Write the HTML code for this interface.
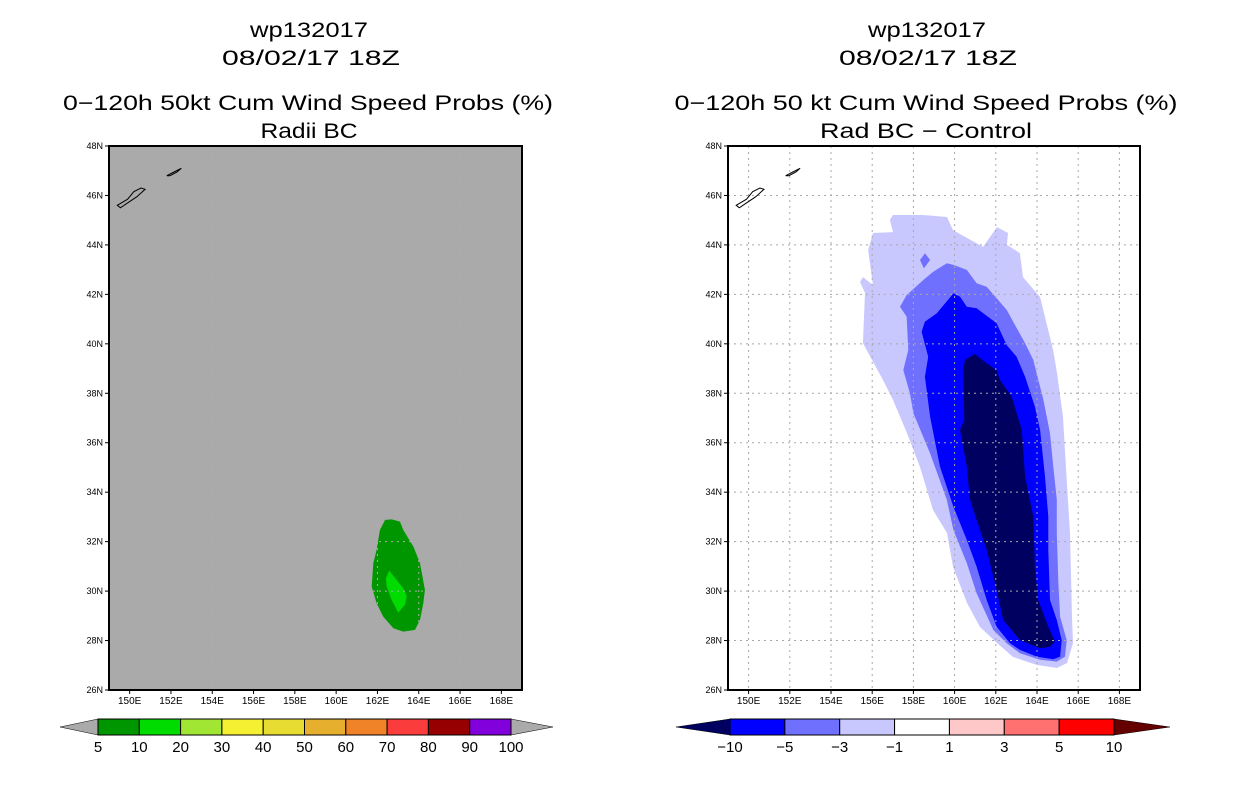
<!DOCTYPE html>
<html><head><meta charset="utf-8">
<style>
html,body{margin:0;padding:0;background:#fff;}
svg{display:block;font-family:"Liberation Sans",sans-serif;}
</style></head>
<body>
<svg id="chart" width="1236" height="800" viewBox="0 0 1236 800">
  <rect width="1236" height="800" fill="#fff"/>
  <g font-size="21" text-anchor="middle" fill="#000">
    <text x="309" y="37" textLength="118" lengthAdjust="spacingAndGlyphs">wp132017</text>
    <text x="311" y="65" textLength="178" lengthAdjust="spacingAndGlyphs">08/02/17 18Z</text>
    <text x="308" y="110" textLength="490" lengthAdjust="spacingAndGlyphs">0−120h 50kt Cum Wind Speed Probs (%)</text>
    <text x="309" y="138" textLength="97" lengthAdjust="spacingAndGlyphs">Radii BC</text>
  </g>
  <g font-size="21" text-anchor="middle" fill="#000">
    <text x="927" y="37" textLength="118" lengthAdjust="spacingAndGlyphs">wp132017</text>
    <text x="928" y="65" textLength="178" lengthAdjust="spacingAndGlyphs">08/02/17 18Z</text>
    <text x="926" y="110" textLength="503" lengthAdjust="spacingAndGlyphs">0−120h 50 kt Cum Wind Speed Probs (%)</text>
    <text x="926" y="138" textLength="212" lengthAdjust="spacingAndGlyphs">Rad BC − Control</text>
  </g>
  <g id="left"></g>
  <g id="right"></g>
  <g id="cbl"></g>
  <g id="cbr"></g>
</svg>
<script>
const NS="http://www.w3.org/2000/svg";
const lonTicks=[150,152,154,156,158,160,162,164,166,168];
const latTicks=[26,28,30,32,34,36,38,40,42,44,46,48];
const leftGreen5=[[162.37,32.88],[162.69,32.90],[163.09,32.81],[163.25,32.47],[163.74,31.80],[164.06,31.13],[164.30,30.05],[164.22,29.51],[164.06,28.83],[163.82,28.43],[163.25,28.36],[162.77,28.50],[162.28,28.97],[161.96,29.51],[161.72,30.18],[161.80,31.13],[161.96,31.66],[162.12,32.47]];
const leftGreen10=[[162.57,30.83],[163.25,30.11],[163.42,29.78],[163.33,29.44],[163.01,29.13],[162.69,29.64],[162.45,30.18],[162.41,30.52]];
const diffM1=[[157.01,45.21],[158.47,45.21],[159.63,45.13],[159.92,44.60],[161.38,43.92],[162.06,44.72],[162.59,44.48],[162.54,44.00],[163.17,43.67],[163.32,42.70],[164.15,41.89],[164.78,39.75],[164.97,38.82],[165.26,37.04],[165.50,33.69],[165.60,32.35],[165.70,28.95],[165.75,27.90],[165.46,27.09],[164.97,26.89],[164.00,27.01],[162.83,27.34],[162.06,27.90],[161.23,28.55],[160.60,29.52],[159.92,30.98],[159.63,32.35],[158.95,33.28],[158.32,35.02],[157.69,36.39],[157.01,37.73],[156.52,38.54],[155.55,40.03],[155.65,42.06],[155.41,42.50],[155.55,42.70],[156.04,42.38],[155.80,43.79],[156.04,44.48],[157.01,44.52],[156.86,45.01]];
const diffM3=[[157.35,41.50],[157.67,41.97],[158.48,42.58],[158.97,42.92],[159.62,43.26],[159.94,43.19],[160.59,42.99],[161.07,42.45],[161.56,42.31],[162.53,41.37],[163.42,40.02],[163.82,39.35],[164.31,37.73],[164.63,36.38],[164.79,35.03],[164.96,33.69],[164.96,32.34],[165.04,30.32],[165.12,28.97],[165.44,28.02],[165.36,27.35],[164.96,27.15],[164.15,27.22],[163.17,27.49],[162.53,27.89],[161.88,28.43],[161.07,29.91],[160.59,31.13],[159.94,32.47],[159.62,33.69],[158.81,35.57],[158.00,37.19],[157.83,38.00],[157.51,38.94],[157.75,39.75],[157.67,41.10]];
const diffM3b=[[158.32,43.39],[158.56,43.66],[158.81,43.39],[158.51,43.05]];
const diffM5=[[158.40,40.49],[158.56,40.90],[159.13,41.23],[159.94,42.04],[160.26,41.91],[160.59,41.50],[161.07,41.44],[162.04,40.83],[162.53,39.95],[163.01,39.48],[163.42,38.67],[163.90,37.46],[164.15,36.52],[164.39,34.63],[164.55,33.01],[164.55,31.66],[164.63,29.64],[164.96,28.83],[165.20,28.02],[165.12,27.35],[164.79,27.24],[163.99,27.35],[163.17,27.62],[162.69,27.89],[162.04,28.56],[161.56,29.64],[161.07,30.99],[160.59,32.07],[159.94,33.41],[159.29,35.03],[158.81,37.05],[158.56,38.67],[158.72,39.48]];
const diffM10=[[160.50,39.35],[160.99,39.59],[161.56,39.21],[162.04,38.94],[162.20,38.54],[162.77,37.86],[163.26,36.52],[163.42,34.63],[163.82,33.01],[163.90,30.99],[164.06,29.64],[164.55,28.56],[164.87,27.96],[164.63,27.75],[164.15,27.69],[163.17,28.02],[162.36,28.83],[162.04,30.05],[161.56,31.66],[161.07,32.88],[160.75,33.69],[160.59,35.03],[160.26,36.52],[160.47,36.92],[160.42,38.94]];
const island1=[[149.4,45.6],[149.9,45.85],[150.2,46.15],[150.55,46.3],[150.75,46.25],[150.35,45.95],[149.9,45.7],[149.55,45.5]];
const island2=[[151.8,46.8],[152.15,46.95],[152.5,47.1],[152.3,46.95],[151.95,46.8]];
const leftLevels=["5","10","20","30","40","50","60","70","80","90","100"];
const leftColors=["#009600","#00dc00","#a0e632","#f5f032","#e6dc32","#e6af2d","#f08228","#fa3c3c","#960000","#8200dc"];
const rightLevels=["−10","−5","−3","−1","1","3","5","10"];
const rightColors=["#0000ff","#7070ff","#c8c8ff","#ffffff","#ffc8c8","#ff7070","#ff0000"];

const Y0=146,Y1=690;
function yLat(v){return Y1-(v-26)/22*(Y1-Y0);}
function mk(tag,attrs,parent){const e=document.createElementNS(NS,tag);for(const k in attrs)e.setAttribute(k,attrs[k]);parent.appendChild(e);return e;}
function poly(pts,xf,parent,fill,stroke,name){
  const d=pts.map(p=>xf(p[0]).toFixed(1)+","+yLat(p[1]).toFixed(1)).join(" ");
  const e=mk("polygon",{points:d,fill:fill,stroke:stroke||"none"},parent);
  
  
  return e;
}
function panel(g,X0,X1,bg){
  const xLon=v=>X0+(v-149)/20*(X1-X0);
  const bgr=mk("rect",{x:X0,y:Y0,width:X1-X0,height:Y1-Y0,fill:bg},g);
  
  
  return xLon;
}
function axes(g,X0,X1,xLon,gridCol){
  const grid=mk("g",{stroke:gridCol,"stroke-width":1,"stroke-dasharray":"2,4"},g);
  
  
  lonTicks.forEach(v=>mk("line",{x1:xLon(v),x2:xLon(v),y1:Y0,y2:Y1},grid));
  latTicks.slice(1,-1).forEach(v=>mk("line",{x1:X0,x2:X1,y1:yLat(v),y2:yLat(v)},grid));
  const fr=mk("rect",{x:X0,y:Y0,width:X1-X0,height:Y1-Y0,fill:"none",stroke:"#000","stroke-width":2},g);
  
  
  lonTicks.forEach(v=>{
    mk("line",{x1:xLon(v),x2:xLon(v),y1:Y1,y2:Y1+4,stroke:"#000"},g);
    const t=mk("text",{x:xLon(v),y:Y1+14,"font-size":10,"text-anchor":"middle"},g);
    t.textContent=v+"E";
    
    
  });
  latTicks.forEach(v=>{
    mk("line",{x1:X0-4,x2:X0,y1:yLat(v),y2:yLat(v),stroke:"#000"},g);
    const t=mk("text",{x:X0-6,y:yLat(v)+3,"font-size":9,"text-anchor":"end"},g);
    t.textContent=v+"N";
    
    
  });
  poly(island1,xLon,g,"none","#000","island-outline");
  poly(island2,xLon,g,"none","#000","island-outline");
}
const gl=document.getElementById("left");
const xl=panel(gl,109,522,"#aaaaaa");
poly(leftGreen5,xl,gl,"#009600",null,"contour-5-10");
poly(leftGreen10,xl,gl,"#00dc00",null,"contour-10-20");
axes(gl,109,522,xl,"#adadad");
const gr=document.getElementById("right");
const xr=panel(gr,728,1140,"#ffffff");
poly(diffM1,xr,gr,"#c8c8ff",null,"contour-minus1");
poly(diffM3,xr,gr,"#7070ff",null,"contour-minus3");
poly(diffM3b,xr,gr,"#7070ff",null,"contour-minus3-small");
poly(diffM5,xr,gr,"#0000ff",null,"contour-minus5");
poly(diffM10,xr,gr,"#000060",null,"contour-minus10");
axes(gr,728,1140,xr,"#a8a8a8");

function colorbar(g,bx0,bx1,tipL,tipR,cols,labels,leftTri,rightTri){
  const yT=719,yB=735,n=cols.length,w=(bx1-bx0)/n;
  const tl=mk("polygon",{points:`${tipL},${(yT+yB)/2} ${bx0},${yT} ${bx0},${yB}`,fill:leftTri,stroke:"#000","stroke-width":0.5},g);
  
  
  const tr=mk("polygon",{points:`${tipR},${(yT+yB)/2} ${bx1},${yT} ${bx1},${yB}`,fill:rightTri,stroke:"#000","stroke-width":0.5},g);
  
  
  cols.forEach((c,i)=>{
    const r=mk("rect",{x:bx0+i*w,y:yT,width:w,height:yB-yT,fill:c,stroke:"#000","stroke-width":1},g);
    
    
  });
  labels.forEach((s,i)=>{
    const t=mk("text",{x:bx0+i*w,y:752,"font-size":15,"text-anchor":"middle"},g);
    t.textContent=s;
    
    
  });
}
colorbar(document.getElementById("cbl"),98,511,60,553,leftColors,leftLevels,"#aaaaaa","#aaaaaa");
colorbar(document.getElementById("cbr"),730,1114,676,1170,rightColors,rightLevels,"#000060","#640000");
</script>
</body></html>
